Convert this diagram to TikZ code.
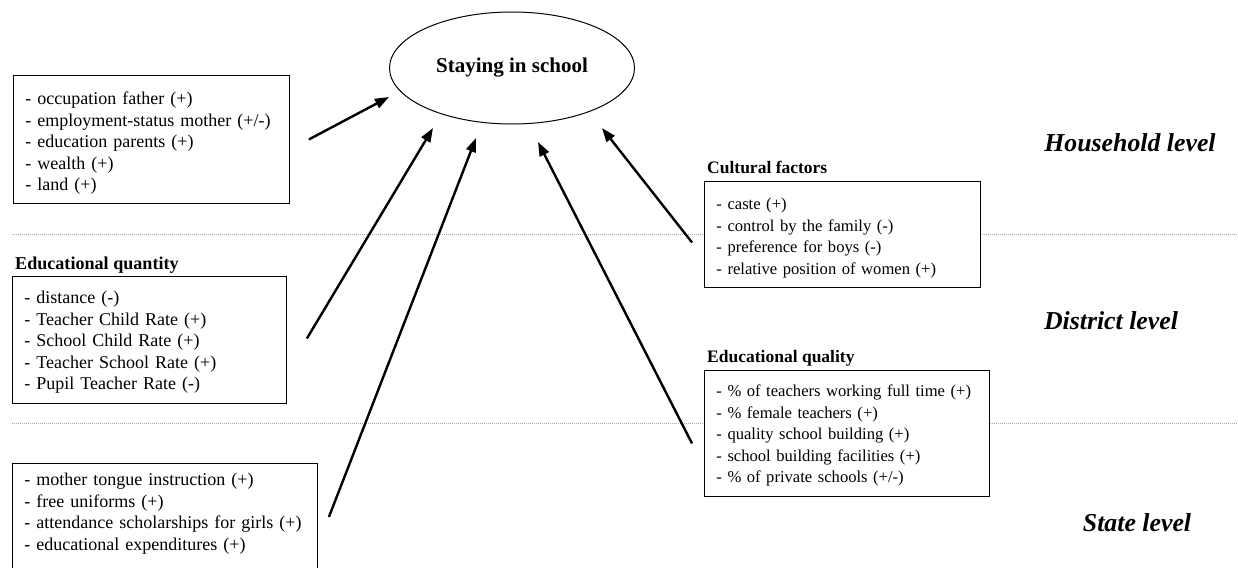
\documentclass[tikz,border=0pt]{standalone}
\usepackage{fontspec}
\setmainfont{Liberation Serif}
\usetikzlibrary{shapes.geometric, arrows.meta, positioning, calc}

\begin{document}
\begin{tikzpicture}[
    x=1pt, y=-1pt,
    factorbox/.style={rectangle, draw, fill=white, line width=0.9pt, anchor=north west, align=left, inner xsep=12pt, font=\fontsize{18}{21.5}\selectfont},
    smallbox/.style={factorbox, font=\fontsize{16.6}{21.5}\selectfont},
    head/.style={anchor=base west, inner sep=0pt, font=\fontsize{18.1}{21.5}\selectfont\bfseries},
    smallhead/.style={head, font=\fontsize{17.5}{21.5}\selectfont\bfseries},
    level/.style={font=\fontsize{25.8}{30}\selectfont\bfseries\itshape},
    levelline/.style={draw=gray!70, line width=0.8pt, dash pattern=on 1pt off 1pt},
    arrow/.style={->, >={Triangle[length=14pt,width=10pt]}, line width=2.4pt}
]
    \useasboundingbox (0,0) rectangle (1238,567);
    \clip (0,0) rectangle (1238,567);

    % Level separators
    \draw[levelline] (12,234) -- (1238,234);
    \draw[levelline] (12,423) -- (1238,423);

    % Outcome
    \node[ellipse, draw, line width=1pt, minimum width=245pt, minimum height=112pt, inner sep=0pt, font=\fontsize{21}{25}\selectfont\bfseries] (stay) at (512,68) {Staying in school};

    % Household factors
    \node[factorbox, text width=252pt, text height=20.5pt, minimum height=128pt] (home) at (13,75) {- occupation father (+)\\ - employment-status mother (+/-)\\ - education parents (+)\\ - wealth (+)\\ - land (+)};

    \node[smallbox, text width=252pt, text height=18.5pt, minimum height=106pt] (cult) at (704,181) {- caste (+)\\ - control by the family (-)\\ - preference for boys (-)\\ - relative position of women (+)};
    \node[smallhead] (culthead) at ([shift={(3pt,8pt)}]cult.north west) {Cultural factors};

    % District factors
    \node[factorbox, text width=250pt, text height=17.5pt, minimum height=127pt] (quant) at (12,276) {- distance (-)\\ - Teacher Child Rate (+)\\ - School Child Rate (+)\\ - Teacher School Rate (+)\\ - Pupil Teacher Rate (-)};
    \node[head] (quanthead) at ([shift={(3pt,7pt)}]quant.north west) {Educational quantity};

    \node[smallbox, text width=261pt, text height=16.5pt, minimum height=126pt] (qual) at (704,370) {- \% of teachers working full time (+)\\ - \% female teachers (+)\\ - quality school building (+)\\ - school building facilities (+)\\ - \% of private schools (+/-)};
    \node[smallhead] (qualhead) at ([shift={(3pt,8pt)}]qual.north west) {Educational quality};

    % State factors
    \node[factorbox, text width=281pt, inner ysep=10pt, text depth=130pt] (state) at (12,463) {- mother tongue instruction (+)\\ - free uniforms (+)\\ - attendance scholarships for girls (+)\\ - educational expenditures (+)};

    % Levels
    \node[level] (hlevel) at (1130,143) {Household level};
    \node[level] (dlevel) at (1111,321) {District level};
    \node[level] (slevel) at (1137,523) {State level};

    % Arrow ends near the ellipse
    \coordinate (in1) at (389,97);
    \coordinate (in2) at (433,128);
    \coordinate (in3) at (476,138);
    \coordinate (in4) at (602,128);
    \coordinate (in5) at (538,142);

    \draw[arrow] ([xshift=19pt]home.east) -- (in1);
    \draw[arrow] ([shift={(20pt,1.5pt)}]quant.east) -- (in2);
    \draw[arrow] ([shift={(11pt,-54pt)}]state.north east) -- (in3);
    \draw[arrow] ([shift={(-12pt,-8pt)}]cult.west) -- (in4);
    \draw[arrow] ([shift={(-12pt,-10pt)}]qual.west) -- (in5);
\end{tikzpicture}
\end{document}
